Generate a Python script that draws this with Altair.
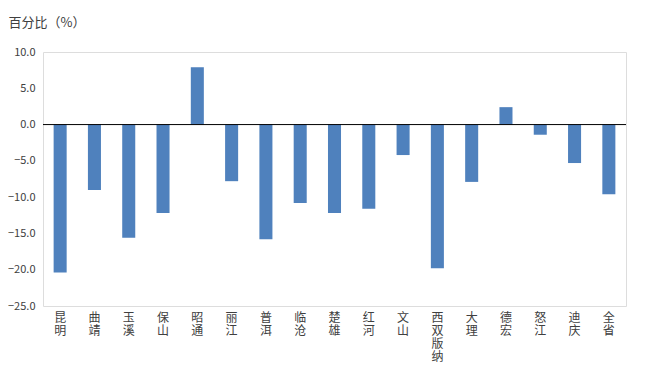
import altair as alt
import pandas as pd

regions = ["昆明", "曲靖", "玉溪", "保山", "昭通", "丽江", "普洱", "临沧", "楚雄",
           "红河", "文山", "西双版纳", "大理", "德宏", "怒江", "迪庆", "全省"]
values = [-20.4, -9.0, -15.6, -12.2, 7.9, -7.8, -15.8, -10.8, -12.2,
          -11.6, -4.2, -19.8, -7.9, 2.4, -1.4, -5.3, -9.6]
y_ticks = [10, 5, 0, -5, -10, -15, -20, -25]

df = pd.DataFrame({"region": regions, "value": values})
font = "Noto Sans CJK SC"

y_axis = alt.Axis(values=y_ticks, format=".1f",
                  labelOverlap=False, labelFlush=False, labelBound=False,
                  title="百分比（%）", titleAngle=0, titleAlign="left",
                  titleBaseline="middle", titleX=-35, titleY=-30,
                  titleFont=font, titleFontSize=13, titleFontWeight="normal",
                  titleColor="#404040",
                  grid=False, ticks=False, domain=False, labelPadding=8,
                  labelFontSize=11, labelColor="#404040", labelFont=font)

bars = alt.Chart(df).mark_bar(color="#4F81BD").encode(
    x=alt.X("region:N", sort=regions,
            scale=alt.Scale(paddingInner=0.62, paddingOuter=0.31),
            axis=alt.Axis(title=None, labelAngle=0, ticks=False, domain=False,
                          labelExpr="split(datum.label, '')", labelOverlap=False,
                          labelLineHeight=13, labelFontSize=12, labelPadding=6,
                          labelColor="#404040", labelFont=font, labelBaseline="top")),
    y=alt.Y("value:Q", scale=alt.Scale(domain=[-25, 10], nice=False), axis=y_axis),
)

zero = alt.Chart(pd.DataFrame({"value": [0]})).mark_rule(color="black", strokeWidth=1).encode(
    y=alt.Y("value:Q", axis=y_axis))

chart = alt.layer(bars, zero).properties(
    width=583, height=254,
    autosize=alt.AutoSizeParams(type="none"),
    padding={"left": 35, "top": 44, "right": 20, "bottom": 78},
).configure_view(stroke="#808080", strokeWidth=1).configure_axis(
    labelOverlap=False).configure(background="white")

chart.save("out.html", embed_options={"renderer": "svg", "actions": False})
